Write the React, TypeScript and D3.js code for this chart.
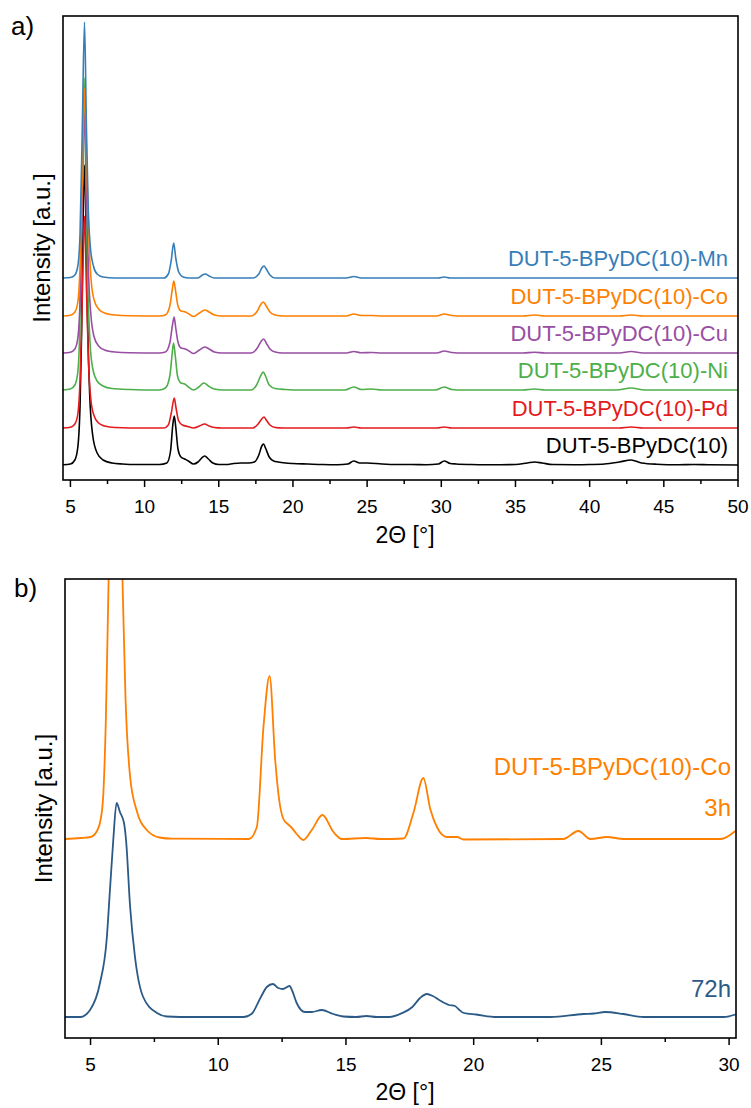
import React from "react";
import * as d3 from "d3";

// ---------- Panel a data (2θ, intensity above own baseline) ----------
const seriesNamesA = ["DUT-5-BPyDC(10)", "DUT-5-BPyDC(10)-Pd", "DUT-5-BPyDC(10)-Ni", "DUT-5-BPyDC(10)-Cu", "DUT-5-BPyDC(10)-Co", "DUT-5-BPyDC(10)-Mn"];
const seriesColorsA = ["#000000", "#e41a1c", "#4daf4a", "#984ea3", "#ff7f00", "#377eb8"];
const seriesOffsetsA = [0, 37, 75, 112, 149, 187];

const xrdBlack: [number, number][] = [
  [4.5, 0.3], [5.0, 1], [5.3, 5], [5.5, 18], [5.65, 60], [5.75, 130], [5.85, 240], [5.95, 300], [6.05, 240], [6.15, 150], [6.3, 70], [6.5, 30], [6.8, 12], [7.2, 5], [7.8, 2], [8.5, 1], [9.5, 0.5], [11, 0.5],
  [11.5, 2], [11.75, 14], [11.9, 40], [12.0, 49], [12.1, 38], [12.25, 16], [12.45, 8], [12.7, 6], [12.95, 4], [13.3, 1], [13.6, 3], [13.85, 7], [14.05, 9], [14.3, 6], [14.6, 2], [15, 0.5], [15.5, 0.5],
  [16, 1.5], [16.5, 2], [17, 2], [17.4, 3], [17.7, 10], [17.9, 19], [18.02, 21], [18.15, 17], [18.4, 8], [18.7, 4], [19, 3], [19.5, 2], [20, 1.5], [21, 1], [22, 0.5], [23, 0.3],
  [23.7, 1], [24.1, 4], [24.5, 2], [25, 2], [26, 1], [27, 0.5], [28, 0.5], [29, 0.3], [29.8, 1], [30.2, 4], [30.6, 1.5], [31, 1], [32, 0.5], [33, 0.3], [34, 0.3], [35, 0.5],
  [35.8, 2], [36.3, 3], [36.8, 2], [37.5, 0.5], [39, 0.3], [40, 0.5], [41, 1], [42, 3], [42.8, 5], [43.5, 2], [44.5, 0.8], [46, 0.3], [47, 0.5], [48, 0.3], [50, 0],
];
const xrdPd: [number, number][] = [
  [4.5, 0], [5.0, 0.8], [5.3, 4], [5.5, 14], [5.65, 48], [5.8, 130], [5.95, 212], [6.08, 140], [6.22, 65], [6.38, 28], [6.6, 12], [6.9, 5], [7.3, 2], [8, 0.5], [10, 0], [11.3, 0],
  [11.6, 3], [11.8, 15], [12.0, 30], [12.12, 20], [12.3, 7], [12.55, 3], [12.9, 1.5], [13.3, 0], [13.7, 2], [14.05, 4], [14.35, 2], [14.7, 0.5], [15.2, 0], [17.3, 0],
  [17.65, 4], [17.9, 9], [18.05, 11], [18.2, 8], [18.45, 3], [18.8, 0.5], [19.3, 0], [23.6, 0], [24.1, 1], [24.6, 0], [29.7, 0], [30.2, 1], [30.7, 0], [42, 0], [42.8, 1], [43.6, 0], [50, 0],
];
const xrdNi: [number, number][] = [
  [4.5, 0], [5.0, 1], [5.3, 5], [5.5, 18], [5.63, 60], [5.78, 190], [5.93, 312], [6.05, 200], [6.18, 100], [6.33, 45], [6.5, 22], [6.8, 9], [7.2, 4], [7.8, 1.5], [9, 0.5], [11, 0],
  [11.4, 2], [11.7, 14], [11.85, 35], [11.95, 47], [12.07, 34], [12.22, 14], [12.45, 7], [12.7, 6], [12.95, 3], [13.3, 0], [13.65, 3], [14.0, 7], [14.3, 4], [14.7, 1], [15.3, 0], [17.2, 0],
  [17.55, 5], [17.85, 15], [18.0, 18], [18.15, 14], [18.4, 5], [18.8, 1.5], [19.5, 0.5], [20.5, 0], [23.5, 0], [24.1, 3], [24.6, 0.5], [25.3, 1], [26, 0], [29.6, 0], [30.2, 3], [30.7, 0.5],
  [31.5, 0], [35.5, 0], [36.3, 1], [37, 0], [41.8, 0], [42.8, 2], [43.7, 0], [50, 0],
];
const xrdCu: [number, number][] = [
  [4.5, 0], [5.0, 0.8], [5.3, 4], [5.5, 15], [5.65, 52], [5.8, 150], [5.96, 240], [6.09, 160], [6.22, 80], [6.38, 38], [6.58, 17], [6.9, 7], [7.3, 3], [8, 1], [9, 0.3], [11, 0],
  [11.4, 1], [11.7, 10], [11.88, 28], [11.99, 36], [12.1, 25], [12.25, 11], [12.45, 5], [12.75, 4], [13.0, 2], [13.3, -0.5], [13.7, 3], [14.05, 6], [14.35, 4], [14.7, 1], [15.2, 0], [17.2, 0],
  [17.6, 5], [17.87, 12], [18.03, 14], [18.2, 10], [18.45, 4], [18.8, 1], [19.3, 0], [23.6, 0], [24.1, 1.5], [24.6, 0.3], [25.3, 0.5], [26, 0], [29.7, 0], [30.2, 2], [30.7, 0.5], [31.5, 0],
  [35.5, 0], [36.3, 0.8], [37, 0], [42, 0], [42.8, 1.5], [43.6, 0], [50, 0],
];
const xrdCo: [number, number][] = [
  [4.5, 0], [5.0, 0.8], [5.3, 4], [5.5, 14], [5.65, 50], [5.8, 140], [5.97, 228], [6.1, 150], [6.25, 75], [6.4, 35], [6.6, 16], [6.9, 7], [7.3, 3], [8, 1], [9, 0.3], [11, 0],
  [11.4, 1], [11.7, 10], [11.87, 27], [11.97, 35], [12.1, 24], [12.25, 10], [12.45, 5], [12.75, 4], [13.0, 2], [13.3, -0.5], [13.7, 3], [14.05, 6], [14.35, 4], [14.7, 1], [15.2, 0], [17.2, 0],
  [17.6, 5], [17.85, 12], [18.0, 14], [18.2, 10], [18.45, 4], [18.8, 1], [19.3, 0], [23.6, 0], [24.1, 2], [24.6, 0.5], [25.3, 0.5], [26, 0], [29.7, 0], [30.2, 2], [30.7, 0.5], [31.5, 0],
  [35.5, 0], [36.3, 1], [37, 0], [42, 0], [42.8, 1], [43.6, 0], [50, 0],
];
const xrdMn: [number, number][] = [
  [4.5, 0], [5.0, 0.5], [5.3, 3], [5.5, 12], [5.65, 45], [5.8, 150], [5.95, 256], [6.08, 150], [6.2, 70], [6.35, 30], [6.55, 12], [6.8, 4], [7.2, 1], [8, 0], [11.3, 0],
  [11.6, 4], [11.8, 18], [11.96, 35], [12.1, 20], [12.3, 6], [12.6, 1], [13, 0], [13.6, 0], [13.9, 3], [14.1, 4], [14.35, 2], [14.7, 0], [17.3, 0],
  [17.7, 4], [17.9, 10], [18.05, 12], [18.2, 9], [18.45, 3], [18.8, 0], [23.6, 0], [24.1, 1.5], [24.6, 0], [29.8, 0], [30.2, 1], [30.6, 0], [50, 0],
];
const seriesDataA = [xrdBlack, xrdPd, xrdNi, xrdCu, xrdCo, xrdMn];

// ---------- Panel b data ----------
const seriesNamesB = ["72h", "3h"];
const seriesColorsB = ["#2b5a87", "#ff7f00"];
const seriesOffsetsB = [0, 178];
const xrd72h: [number, number][] = [
  [4, 0], [4.6, 0], [4.98, 7], [5.37, 34], [5.63, 77], [5.76, 127], [5.89, 177], [6.02, 214], [6.15, 205], [6.31, 194], [6.39, 177], [6.55, 110], [6.74, 60], [7.06, 20], [7.6, 4], [8.0, 0.5], [9, 0], [11.0, 0],
  [11.3, 3], [11.67, 20], [11.9, 30], [12.14, 33], [12.35, 29], [12.53, 28], [12.79, 31], [12.9, 26], [13.07, 14], [13.4, 5], [13.66, 5], [14.05, 7], [14.5, 3], [14.9, 0.5], [15.4, 0], [15.8, 1], [16.2, 0],
  [16.7, 0], [17.2, 4], [17.6, 10], [17.9, 19], [18.17, 23], [18.4, 21], [18.65, 17], [19.03, 12], [19.27, 11], [19.4, 8], [19.62, 4], [20.1, 2.5], [20.9, 0], [23, 0], [24.3, 3], [24.7, 3.5], [25.15, 5],
  [25.86, 3], [26.65, 0], [29.8, 0], [30.25, 2.5],
];
const xrd3h: [number, number][] = [
  [4, 0], [4.6, 1], [5.0, 2], [5.25, 8], [5.4, 20], [5.5, 45], [5.6, 120], [5.7, 250], [5.8, 380], [5.97, 450], [6.12, 380], [6.25, 260], [6.37, 140], [6.55, 62], [6.8, 29], [7.2, 9], [7.7, 1.5], [8.2, 0.3], [11.2, 0],
  [11.51, 12], [11.77, 112], [12.01, 163], [12.23, 79], [12.38, 40], [12.55, 20], [12.72, 15], [12.85, 12], [13.07, 5], [13.33, -1], [13.66, 9], [14.08, 24], [14.51, 7], [14.84, 0], [15.8, 1], [16.34, 0],
  [17.25, 0.5], [17.64, 26], [18.03, 61], [18.3, 30], [18.56, 12], [18.95, 2], [19.35, 2], [19.6, -0.5], [23.5, 0], [24.1, 8], [24.57, 0], [25.22, 2], [25.87, 0], [29.67, 0], [30.25, 8],
];
const seriesDataB = [xrd72h, xrd3h];

const ticksA = [5, 10, 15, 20, 25, 30, 35, 40, 45, 50];
const minorTicksA = [7.5, 12.5, 17.5, 22.5, 27.5, 32.5, 37.5, 42.5, 47.5];
const ticksB = [5, 10, 15, 20, 25, 30];
const minorTicksB = [7.5, 12.5, 17.5, 22.5, 27.5];

const FONT = "'Liberation Sans', Arial, Helvetica, sans-serif";

function Frame({ x0, x1, y0, y1 }: { x0: number; x1: number; y0: number; y1: number }) {
  return <rect x={x0} y={y0} width={x1 - x0} height={y1 - y0} fill="none" stroke="#000" strokeWidth={1.6} />;
}

export default function App() {
  // Panel a geometry
  const aL = 63, aR = 738, aT = 16, aB = 480;
  const xA = d3.scaleLinear().domain([4.5, 50]).range([aL, aR]);
  const yA = d3.scaleLinear().domain([-15, 449]).range([aB, aT]);

  // Panel b geometry
  const bL = 65, bR = 736, bT = 579, bB = 1038;
  const xB = d3.scaleLinear().domain([4, 30.27]).range([bL, bR]);
  const yB = d3.scaleLinear().domain([-21, 438]).range([bB, bT]);

  const lineFor = (xs: d3.ScaleLinear<number, number>, ys: d3.ScaleLinear<number, number>, off: number) =>
    d3.line<[number, number]>()
      .x((d) => xs(d[0]))
      .y((d) => ys(d[1] + off))
      .curve(d3.curveMonotoneX);

  const axis = (xs: d3.ScaleLinear<number, number>, yBase: number, major: number[], minor: number[]) => (
    <g>
      {major.map((t) => (
        <g key={"M" + t}>
          <line x1={xs(t)} x2={xs(t)} y1={yBase} y2={yBase + 7} stroke="#000" strokeWidth={1.5} />
          <text x={xs(t)} y={yBase + 33} textAnchor="middle" fontSize={19} fontFamily={FONT} fill="#000">{t}</text>
        </g>
      ))}
      {minor.map((t) => (
        <line key={"m" + t} x1={xs(t)} x2={xs(t)} y1={yBase} y2={yBase + 4} stroke="#000" strokeWidth={1.5} />
      ))}
    </g>
  );

  return (
    <svg width={751} height={1108} style={{ position: "absolute", left: 0, top: 0, background: "#fff" }}>
      <defs>
        <clipPath id="clipA"><rect x={aL} y={aT} width={aR - aL} height={aB - aT} /></clipPath>
        <clipPath id="clipB"><rect x={bL} y={bT} width={bR - bL} height={bB - bT} /></clipPath>
      </defs>
      <rect x={0} y={0} width={751} height={1108} fill="#fff" />

      {/* Panel a */}
      <text x={11} y={35} fontSize={26} fontFamily={FONT} fill="#000">a)</text>
      <g clipPath="url(#clipA)">
        {seriesDataA.map((d, i) => (
          <path key={i} d={lineFor(xA, yA, seriesOffsetsA[i])(d) || ""} fill="none" stroke={seriesColorsA[i]} strokeWidth={1.6} strokeLinejoin="round" />
        ))}
      </g>
      {seriesNamesA.map((n, i) => (
        <text key={n} x={aR - 10} y={yA(seriesOffsetsA[i] + 12)} textAnchor="end" fontSize={22} fontFamily={FONT} fill={seriesColorsA[i]}>{n}</text>
      ))}
      <Frame x0={aL} x1={aR} y0={aT} y1={aB} />
      {axis(xA, aB, ticksA, minorTicksA)}
      <text x={405} y={543} textAnchor="middle" fontSize={23} fontFamily={FONT} fill="#000">2Θ [°]</text>
      <text transform={`translate(50,${(aT + aB) / 2}) rotate(-90)`} textAnchor="middle" fontSize={24} fontFamily={FONT} fill="#000">Intensity [a.u.]</text>

      {/* Panel b */}
      <text x={14} y={597} fontSize={26} fontFamily={FONT} fill="#000">b)</text>
      <g clipPath="url(#clipB)">
        {seriesDataB.map((d, i) => (
          <path key={i} d={lineFor(xB, yB, seriesOffsetsB[i])(d) || ""} fill="none" stroke={seriesColorsB[i]} strokeWidth={1.8} strokeLinejoin="round" />
        ))}
      </g>
      <text x={731} y={yB(seriesOffsetsB[1] + 64)} textAnchor="end" fontSize={24} fontFamily={FONT} fill={seriesColorsB[1]}>DUT-5-BPyDC(10)-Co</text>
      <text x={731} y={yB(seriesOffsetsB[1] + 23)} textAnchor="end" fontSize={24} fontFamily={FONT} fill={seriesColorsB[1]}>{seriesNamesB[1]}</text>
      <text x={731} y={yB(seriesOffsetsB[0] + 20)} textAnchor="end" fontSize={24} fontFamily={FONT} fill={seriesColorsB[0]}>{seriesNamesB[0]}</text>
      <Frame x0={bL} x1={bR} y0={bT} y1={bB} />
      {axis(xB, bB, ticksB, minorTicksB)}
      <text x={405} y={1100} textAnchor="middle" fontSize={23} fontFamily={FONT} fill="#000">2Θ [°]</text>
      <text transform={`translate(52,${(bT + bB) / 2}) rotate(-90)`} textAnchor="middle" fontSize={24} fontFamily={FONT} fill="#000">Intensity [a.u.]</text>
    </svg>
  );
}
